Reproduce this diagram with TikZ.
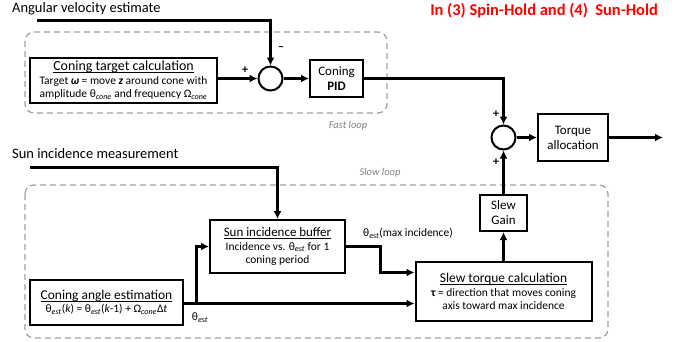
\documentclass[tikz,border=0pt]{standalone}
\usepackage{fontspec}
\setmainfont{Carlito}
\usetikzlibrary{positioning,arrows.meta}
\newcommand{\undl}[1]{\setbox0\hbox{#1}\rlap{\raisebox{-2.2pt}{\rule{\wd0}{0.7pt}}}\box0}

\begin{document}
\begin{tikzpicture}[
		x=1bp,y=-1bp,
		blk/.style={draw,line width=2bp,align=center,inner sep=1pt,font=\fontsize{11.5}{13.5}\selectfont},
		sumnode/.style={draw,circle,line width=2bp,minimum size=24bp,inner sep=0pt},
		sig/.style={line width=3bp,-{Latex[length=8bp,width=8bp]}},
		loopbox/.style={draw=gray!75,dash pattern=on 6bp off 4bp,line width=1.2bp,rounded corners=9bp},
		looplabel/.style={text=gray,font=\itshape\fontsize{10.5}{12}\selectfont},
		sgn/.style={font=\bfseries\fontsize{12}{14}\selectfont,inner sep=0pt},
		inlabel/.style={font=\fontsize{14.5}{16}\selectfont,inner sep=0pt}
		]
		\useasboundingbox (0,0) rectangle (693,341);
		\draw[loopbox] (25,32) rectangle (387,113);
		\draw[loopbox] (25,185) rectangle (608,338);
		\node[looplabel] (fl) at (348,126) {Fast loop};
		\node[looplabel] (sl) at (380,173) {Slow loop};
		\node[text=red,font=\bfseries\fontsize{16.5}{18}\selectfont] (title) at (544,11) {In (3) Spin-Hold and (4)\ \ Sun-Hold};
		\node[inlabel,anchor=west] (avtxt) at (12,9) {Angular velocity estimate};
		\node[inlabel,anchor=west] (smtxt) at (12,154) {Sun incidence measurement};
		\node[blk,minimum width=187bp,minimum height=45bp] (ctc) at (123.5,80.5)
		{{\fontsize{14}{15}\selectfont\undl{Coning target calculation}}\\
			Target {\bfseries\itshape ω} = move {\bfseries\itshape z} around cone with\\
			amplitude θ\textsubscript{\itshape cone} and frequency Ω\textsubscript{\itshape cone}};
		\node[sumnode] (sum1) at (270.5,78.5) {};
		\node[blk,minimum width=53bp,minimum height=37bp,font=\fontsize{13}{15}\selectfont] (pid) at (336.5,78.5) {Coning\\\textbf{PID}};
		\node[sumnode] (sum2) at (503.5,137.5) {};
		\node[blk,minimum width=70bp,minimum height=47bp,font=\fontsize{13}{15}\selectfont] (ta) at (573,137.5) {Torque\\allocation};
		\node[blk,minimum width=135bp,minimum height=53bp] (sib) at (277.5,246.5)
		{{\fontsize{13}{15}\selectfont\undl{Sun incidence buffer}}\\
			Incidence vs. θ\textsubscript{\itshape est} for 1\\
			coning period};
		\node[blk,minimum width=153bp,minimum height=45bp] (cae) at (106.5,302.5)
		{{\fontsize{13.5}{15}\selectfont\undl{Coning angle estimation}}\\
			θ\textsubscript{\itshape est}(\textit{k}) = θ\textsubscript{\itshape est}(\textit{k}-1) + Ω\textsubscript{\itshape cone}Δ\textit{t}};
		\node[blk,minimum width=176bp,minimum height=59bp] (stc) at (503.5,291.5)
		{{\fontsize{13.5}{15}\selectfont\undl{Slew torque calculation}}\\
			{\bfseries τ} = direction that moves coning\\
			axis toward max incidence};
		\node[blk,minimum width=47bp,minimum height=36bp,font=\fontsize{13}{15}\selectfont] (sg) at (503.5,213) {Slew\\Gain};
		\coordinate (av) at (37,20.5);
		\coordinate (sm) at (30,167.5);
		\coordinate (out) at (663,137.5);
		\coordinate (br) at (196.5,303.5);
		\coordinate (kn) at (380.5,272.5);
		\draw[sig] (av) -| (sum1);
		\draw[sig] (ctc.east |- sum1) -- (sum1);
		\draw[sig] (sum1) -- (pid);
		\draw[sig] (pid.east) -| (sum2);
		\draw[sig] (sum2) -- (ta);
		\draw[sig] (ta) -- (out);
		\draw[sig] (sm) -| (sib);
		\draw[sig] (cae.east |- br) -- (br -| stc.west);
		\draw[sig] (br) |- (sib);
		\draw[sig] (sib.east) -| (kn) -- (kn -| stc.west);
		\draw[sig] (stc) -- (sg);
		\draw[sig] (sg) -- (sum2);
		\node[sgn] (p1) at (245,70) {+};
		\node[sgn] (m1) at (281,49) {--};
		\node[sgn] (p2) at (496,114) {+};
		\node[sgn] (p3) at (496,162) {+};
		\node[font=\fontsize{11.5}{13}\selectfont] (te) at (200,318) {θ\textsubscript{\itshape est}};
		\node[font=\fontsize{11.5}{13}\selectfont] (tmax) at (408,233) {θ\textsubscript{\itshape est}(max incidence)};
	\end{tikzpicture}
\end{document}
